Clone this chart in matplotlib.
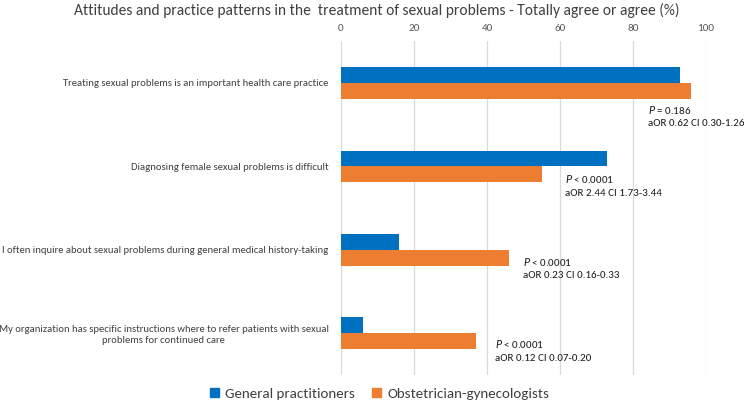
import matplotlib
matplotlib.use('Agg')
import numpy as np
import matplotlib.pyplot as plt
from matplotlib.patches import Patch

plt.rcParams['font.family'] = ['Carlito', 'Lato', 'DejaVu Sans']
plt.rcParams['mathtext.fontset'] = 'custom'
plt.rcParams['mathtext.it'] = 'Lato:italic'
plt.rcParams['mathtext.rm'] = 'Lato'

statements = ['Treating sexual problems is an important health care practice',
              'Diagnosing female sexual problems is difficult',
              'I often inquire about sexual problems during general medical history-taking',
              'My organization has specific instructions where to refer patients with sexual\nproblems for continued care']
gp = [93, 73, 16, 6]
obgyn = [96, 55, 46, 37]
p_text = ['= 0.186', '< 0.0001', '< 0.0001', '< 0.0001']
aor_text = ['aOR 0.62 CI 0.30-1.26', 'aOR 2.44 CI 1.73-3.44',
            'aOR 0.23 CI 0.16-0.33', 'aOR 0.12 CI 0.07-0.20']
ticks = [0, 20, 40, 60, 80, 100]

blue = '#0070C0'
orange = '#ED7D31'

fig = plt.figure(figsize=(7.47, 4.04), dpi=100)
ax = fig.add_axes([0.4565, 0.0718, 0.4886, 0.8262])

y = np.arange(len(statements))
h = 0.19
ax.barh(y - h/2, gp, height=h, color=blue, zorder=3)
ax.barh(y + h/2, obgyn, height=h, color=orange, zorder=3)

ax.set_ylim(len(statements) - 0.5, -0.5)
ax.set_xlim(0, 100)
ax.set_xticks(ticks)
ax.xaxis.tick_top()
ax.tick_params(axis='x', length=0, labelsize=8, labelcolor='#595959', pad=6)
ax.set_yticks(y)
ax.set_yticklabels(statements, fontsize=7.7, color='#404040', ha='right', multialignment='center')
ax.tick_params(axis='y', length=0, pad=9)
for s in ax.spines.values():
    s.set_visible(False)
ax.grid(axis='x', color='#D9D9D9', linewidth=0.9, zorder=0)

# annotation positions (x in data units, y offset in category units)
ann_x = [84.0, 61.5, 50.0, 42.2]
ann_dy = [0.32, 0.15, 0.14, 0.13]
for i in range(len(statements)):
    ax.text(ann_x[i], y[i] + ann_dy[i], '$P$ ' + p_text[i], fontsize=7.9, color='#1a1a1a', va='center')
    ax.text(ann_x[i], y[i] + ann_dy[i] + 0.17, aor_text[i], fontsize=7.9, color='#1a1a1a', va='center')

fig.text(0.504, 0.975, 'Attitudes and practice patterns in the  treatment of sexual problems - Totally agree or agree (%)',
         ha='center', va='center', fontsize=11.2, color='#404040')

handles = [Patch(color=blue, label='General practitioners'),
           Patch(color=orange, label='Obstetrician-gynecologists')]
fig.legend(handles=handles, loc='center', bbox_to_anchor=(0.508, 0.025), ncol=2, frameon=False,
           fontsize=10.8, handlelength=0.6, handleheight=0.6, columnspacing=1.2, handletextpad=0.4,
           labelcolor='#404040')

fig.savefig('out.png', dpi=100)
